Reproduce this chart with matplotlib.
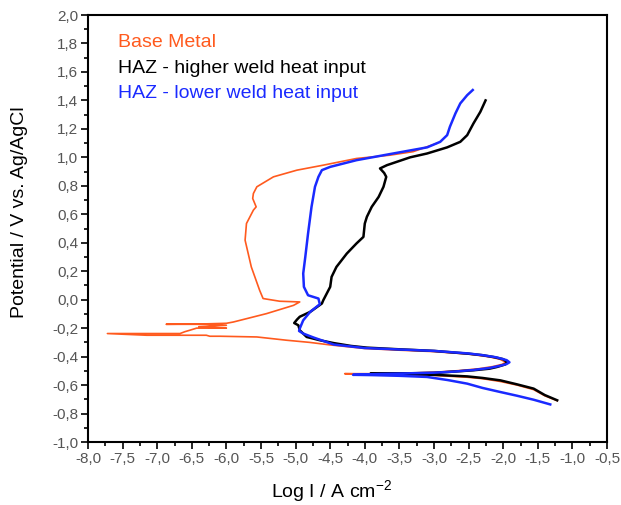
import matplotlib
matplotlib.use('Agg')
import matplotlib.pyplot as plt
from matplotlib.ticker import MultipleLocator, FuncFormatter

plt.rcParams['font.family'] = ['Liberation Sans', 'DejaVu Sans']
plt.rcParams['mathtext.default'] = 'regular'

# Base Metal (log I, E)
base_x = [-1.22, -1.40, -1.56, -1.80, -2.04, -2.30, -2.52, -3.0, -3.5, -4.0, -4.29, -3.8, -3.3, -2.9,
          -2.6, -2.35, -2.15, -2.02, -1.96, -2.05, -2.2, -2.5, -3.0, -3.5, -4.0, -4.5, -4.8, -5.13,
          -5.56, -6.09, -6.24, -6.29, -7.15, -7.72, -6.67, -6.60, -6.53, -6.43, -6.00, -6.40, -6.00,
          -6.30, -6.87, -6.30, -6.00, -5.90, -5.42, -5.03, -4.94, -5.23, -5.47, -5.52, -5.64, -5.73,
          -5.71, -5.61, -5.57, -5.62, -5.61, -5.56, -5.32, -4.98, -4.60, -4.12, -3.64, -3.3, -2.96]
base_y = [-0.71, -0.675, -0.632, -0.60, -0.575, -0.555, -0.545, -0.532, -0.526, -0.522, -0.52, -0.52,
          -0.515, -0.507, -0.497, -0.485, -0.47, -0.455, -0.44, -0.418, -0.402, -0.382, -0.365, -0.355,
          -0.343, -0.318, -0.30, -0.285, -0.262, -0.257, -0.257, -0.25, -0.25, -0.238, -0.238, -0.225,
          -0.215, -0.20, -0.20, -0.19, -0.18, -0.173, -0.173, -0.17, -0.166, -0.157, -0.098, -0.04,
          -0.016, -0.011, 0.008, 0.066, 0.23, 0.418, 0.535, 0.629, 0.652, 0.711, 0.746, 0.793, 0.863,
          0.91, 0.945, 0.992, 1.015, 1.04, 1.098]

# HAZ - higher weld heat input
high_x = [-1.22, -1.40, -1.56, -1.80, -2.04, -2.30, -2.52, -3.0, -3.5, -3.92, -3.5, -3.0, -2.7, -2.43,
          -2.2, -2.09, -1.97, -1.945, -2.0, -2.14, -2.3, -2.52, -3.0, -3.49, -3.97, -4.2, -4.45, -4.65,
          -4.84, -4.94, -4.96, -5.02, -4.98, -4.94, -4.79, -4.62, -4.60, -4.50, -4.48, -4.41, -4.26,
          -4.12, -4.02, -4.0, -3.97, -3.90, -3.80, -3.73, -3.69, -3.72, -3.78, -3.68, -3.345, -3.10,
          -2.81, -2.62, -2.52, -2.43, -2.33, -2.255]
high_y = [-0.707, -0.67, -0.625, -0.595, -0.567, -0.55, -0.539, -0.528, -0.522, -0.52, -0.518, -0.515,
          -0.505, -0.496, -0.485, -0.473, -0.455, -0.438, -0.418, -0.403, -0.39, -0.379, -0.36, -0.349,
          -0.337, -0.325, -0.305, -0.285, -0.262, -0.215, -0.18, -0.164, -0.14, -0.12, -0.086, -0.027,
          -0.004, 0.09, 0.16, 0.23, 0.324, 0.395, 0.441, 0.535, 0.582, 0.652, 0.722, 0.793, 0.863, 0.89,
          0.922, 0.945, 1.0, 1.027, 1.07, 1.109, 1.156, 1.238, 1.32, 1.40]

# HAZ - lower weld heat input
low_x = [-1.32, -1.56, -1.80, -2.04, -2.30, -2.52, -2.8, -3.1, -3.5, -3.9, -4.17, -3.8, -3.4, -3.0,
         -2.7, -2.43, -2.2, -2.05, -1.95, -1.91, -1.95, -2.1, -2.3, -2.5, -3.0, -3.5, -4.0, -4.45,
         -4.74, -4.89, -4.95, -4.94, -4.89, -4.79, -4.65, -4.67, -4.82, -4.88, -4.89, -4.86, -4.82,
         -4.77, -4.72, -4.67, -4.62, -4.50, -4.12, -3.59, -3.10, -2.91, -2.81, -2.77, -2.69, -2.62,
         -2.52, -2.44]
low_y = [-0.736, -0.703, -0.675, -0.649, -0.62, -0.59, -0.565, -0.543, -0.535, -0.53, -0.528, -0.522,
         -0.518, -0.513, -0.505, -0.494, -0.48, -0.465, -0.452, -0.44, -0.425, -0.405, -0.39, -0.378,
         -0.36, -0.35, -0.34, -0.315, -0.266, -0.238, -0.22, -0.203, -0.145, -0.086, -0.032, 0.008,
         0.031, 0.09, 0.184, 0.30, 0.465, 0.652, 0.793, 0.863, 0.91, 0.933, 0.98, 1.027, 1.07, 1.109,
         1.156, 1.215, 1.309, 1.379, 1.437, 1.473]

orange = '#FF5A1E'
blue = '#1A2AFF'

fig = plt.figure(figsize=(6.21, 5.05), dpi=100)
ax = fig.add_axes([88 / 621, 1 - 442 / 505, (607 - 88) / 621, (442 - 15) / 505])

ax.plot(base_x, base_y, color=orange, lw=1.2)
ax.plot(high_x, high_y, color='black', lw=1.8)
ax.plot(low_x, low_y, color=blue, lw=1.8)

ax.set_xlim(-8.0, -0.5)
ax.set_ylim(-1.0, 2.0)
ax.xaxis.set_major_locator(MultipleLocator(0.5))
ax.xaxis.set_minor_locator(MultipleLocator(0.25))
ax.yaxis.set_major_locator(MultipleLocator(0.2))
ax.yaxis.set_minor_locator(MultipleLocator(0.1))
comma = FuncFormatter(lambda v, p: f"{round(v, 1) + 0.0:.1f}".replace('.', ','))
ax.xaxis.set_major_formatter(comma)
ax.yaxis.set_major_formatter(comma)

ax.tick_params(which='both', direction='out', top=False, right=False, width=1.2,
               labelsize=11, labelcolor='#555555', pad=2)
ax.tick_params(which='major', length=5)
ax.tick_params(which='minor', length=3)
for s in ax.spines.values():
    s.set_linewidth(1.5)

fig.text(20 / 621, 1 - 212 / 505, 'Potential / V vs. Ag/AgCl', rotation=90,
         ha='center', va='center', fontsize=14)
fig.text(332 / 621, 1 - 491 / 505, 'Log I / A cm$^{-2}$', ha='center', va='center', fontsize=14)

fig.text(118 / 621, 1 - 46.7 / 505, 'Base Metal', color=orange, fontsize=14)
fig.text(118 / 621, 1 - 72.7 / 505, 'HAZ - higher weld heat input', color='black', fontsize=14)
fig.text(118 / 621, 1 - 97.7 / 505, 'HAZ - lower weld heat input', color=blue, fontsize=14)

fig.savefig('out.png', dpi=100)
